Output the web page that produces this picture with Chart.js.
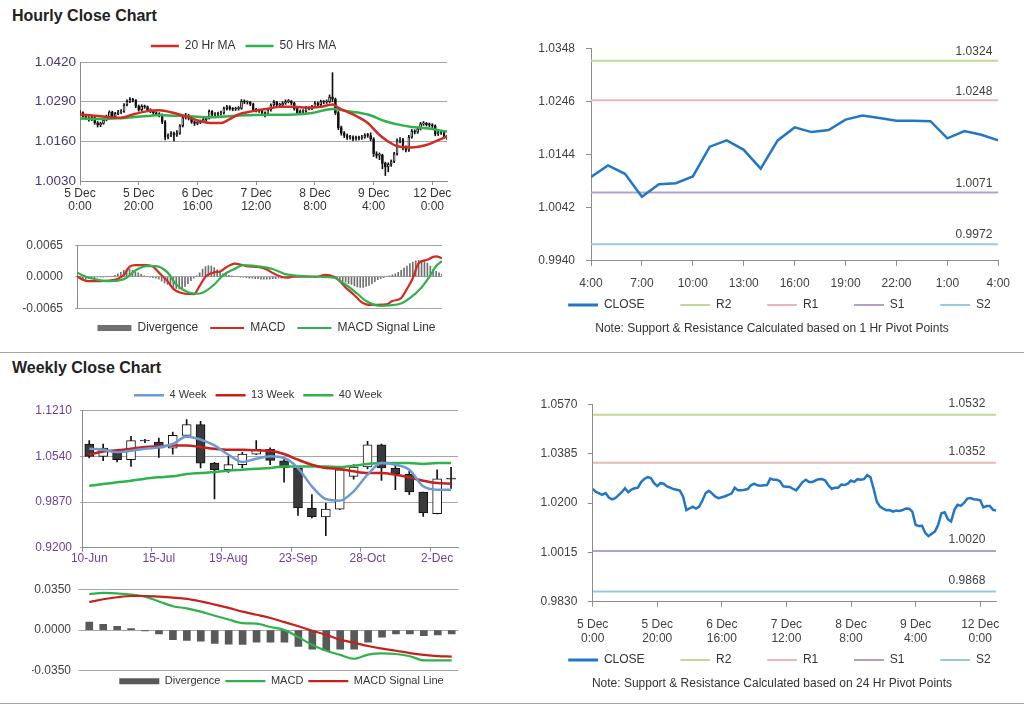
<!DOCTYPE html>
<html><head><meta charset="utf-8">
<script src="https://cdn.jsdelivr.net/npm/chart.js@4.4.1/dist/chart.umd.min.js"></script>
<style>
html,body{margin:0;padding:0;background:#fff;}
body{width:1024px;height:706px;position:relative;overflow:hidden;font-family:"Liberation Sans",Arial,sans-serif;}
canvas{position:absolute;}
.title{position:absolute;left:12px;font-weight:bold;font-size:16px;color:#222;line-height:20px;}
.note{position:absolute;left:520px;width:504px;text-align:center;font-size:12px;color:#333;line-height:14px;}
.sep{position:absolute;left:0;width:1024px;height:1px;background:#a6a6a6;}
</style></head><body>
<div class="title" style="top:6px">Hourly Close Chart</div>
<div class="title" style="top:358px">Weekly Close Chart</div>
<canvas id="cA" width="470" height="185" style="left:0;top:30px"></canvas>
<canvas id="cB" width="512" height="120" style="left:0;top:226px"></canvas>
<canvas id="cC" width="491" height="294" style="left:520px;top:30px"></canvas>
<canvas id="cD" width="482" height="192" style="left:0;top:378px"></canvas>
<canvas id="cE" width="531" height="124" style="left:0;top:575px"></canvas>
<canvas id="cF" width="491" height="292" style="left:520px;top:387px"></canvas>
<div class="note" style="top:321px">Note: Support &amp; Resistance Calculated based on 1 Hr Pivot Points</div>
<div class="note" style="top:676px">Note: Support &amp; Resistance Calculated based on 24 Hr Pivot Points</div>
<div class="sep" style="top:352px"></div>
<div class="sep" style="top:703px"></div>
<script>
// ---------------- DATA ----------------
// Hourly series (5 Dec 0:00 .. 12 Dec 5:00), index = hour
const hTickIdx = [0,20,40,60,80,100,120];
const hTickLabels = [['5 Dec','0:00'],['5 Dec','20:00'],['6 Dec','16:00'],['7 Dec','12:00'],['8 Dec','8:00'],['9 Dec','4:00'],['12 Dec','0:00']];
const hPriceTicks = [1.0030,1.0160,1.0290,1.0420];
const hOpen = [1.0250,1.0254,1.0242,1.0237,1.0231,1.0238,1.0221,1.0214,1.0219,1.0230,
1.0241,1.0256,1.0241,1.0251,1.0256,1.0258,1.0279,1.0291,1.0298,1.0294,
1.0275,1.0264,1.0275,1.0273,1.0263,1.0258,1.0253,1.0250,1.0247,1.0224,
1.0174,1.0180,1.0187,1.0180,1.0187,1.0211,1.0238,1.0246,1.0236,1.0224,
1.0219,1.0222,1.0226,1.0231,1.0236,1.0258,1.0248,1.0248,1.0250,1.0253,
1.0267,1.0273,1.0267,1.0265,1.0267,1.0268,1.0292,1.0288,1.0288,1.0282,
1.0263,1.0262,1.0261,1.0254,1.0248,1.0263,1.0279,1.0288,1.0279,1.0279,
1.0285,1.0290,1.0291,1.0285,1.0267,1.0254,1.0258,1.0258,1.0270,1.0268,
1.0273,1.0285,1.0280,1.0290,1.0288,1.0290,1.0305,1.0298,1.0254,1.0205,
1.0187,1.0179,1.0173,1.0174,1.0168,1.0172,1.0171,1.0174,1.0180,1.0179,
1.0168,1.0119,1.0114,1.0115,1.0088,1.0076,1.0085,1.0094,1.0119,1.0162,
1.0166,1.0140,1.0131,1.0174,1.0194,1.0190,1.0201,1.0217,1.0219,1.0215,
1.0214,1.0211,1.0184,1.0189,1.0189,1.0175];
const hClose = [1.0254,1.0242,1.0237,1.0231,1.0238,1.0221,1.0214,1.0219,1.0230,1.0241,
1.0256,1.0241,1.0251,1.0256,1.0258,1.0279,1.0291,1.0298,1.0294,1.0275,
1.0264,1.0275,1.0273,1.0263,1.0258,1.0253,1.0250,1.0247,1.0224,1.0174,
1.0180,1.0187,1.0180,1.0187,1.0211,1.0238,1.0246,1.0236,1.0224,1.0219,
1.0222,1.0226,1.0231,1.0236,1.0258,1.0248,1.0248,1.0250,1.0253,1.0267,
1.0273,1.0267,1.0265,1.0267,1.0268,1.0292,1.0288,1.0288,1.0282,1.0263,
1.0262,1.0261,1.0254,1.0248,1.0263,1.0279,1.0288,1.0279,1.0279,1.0285,
1.0290,1.0291,1.0285,1.0267,1.0254,1.0258,1.0258,1.0270,1.0268,1.0273,
1.0285,1.0280,1.0290,1.0288,1.0290,1.0305,1.0298,1.0254,1.0205,1.0187,
1.0179,1.0173,1.0174,1.0168,1.0172,1.0171,1.0174,1.0180,1.0179,1.0168,
1.0119,1.0114,1.0115,1.0088,1.0076,1.0085,1.0094,1.0119,1.0162,1.0166,
1.0140,1.0131,1.0174,1.0194,1.0190,1.0201,1.0217,1.0219,1.0215,1.0214,
1.0211,1.0184,1.0189,1.0189,1.0175,1.0172];
const hHigh = [1.0260,1.0257,1.0246,1.0241,1.0242,1.0240,1.0225,1.0223,1.0234,1.0246,
1.0260,1.0259,1.0255,1.0262,1.0264,1.0284,1.0296,1.0303,1.0301,1.0297,
1.0279,1.0280,1.0279,1.0276,1.0267,1.0262,1.0257,1.0254,1.0250,1.0228,
1.0185,1.0192,1.0190,1.0195,1.0215,1.0242,1.0252,1.0249,1.0240,1.0228,
1.0227,1.0230,1.0236,1.0241,1.0263,1.0261,1.0254,1.0256,1.0259,1.0272,
1.0278,1.0277,1.0271,1.0272,1.0274,1.0297,1.0296,1.0293,1.0291,1.0285,
1.0268,1.0266,1.0264,1.0257,1.0267,1.0283,1.0294,1.0291,1.0285,1.0290,
1.0296,1.0297,1.0294,1.0288,1.0270,1.0263,1.0264,1.0275,1.0274,1.0278,
1.0290,1.0289,1.0295,1.0294,1.0296,1.0312,1.0385,1.0302,1.0258,1.0210,
1.0192,1.0184,1.0180,1.0178,1.0177,1.0177,1.0180,1.0185,1.0186,1.0188,
1.0172,1.0126,1.0122,1.0118,1.0092,1.0090,1.0099,1.0124,1.0168,1.0172,
1.0170,1.0145,1.0180,1.0199,1.0198,1.0207,1.0222,1.0225,1.0222,1.0220,
1.0218,1.0214,1.0195,1.0195,1.0192,1.0180];
const hLow = [1.0244,1.0238,1.0232,1.0226,1.0228,1.0216,1.0207,1.0208,1.0216,1.0227,
1.0238,1.0236,1.0237,1.0247,1.0251,1.0255,1.0276,1.0287,1.0289,1.0270,
1.0259,1.0260,1.0268,1.0258,1.0254,1.0248,1.0245,1.0240,1.0218,1.0165,
1.0168,1.0175,1.0161,1.0176,1.0183,1.0207,1.0233,1.0230,1.0219,1.0212,
1.0214,1.0218,1.0222,1.0227,1.0233,1.0243,1.0243,1.0244,1.0246,1.0249,
1.0262,1.0262,1.0260,1.0261,1.0262,1.0265,1.0283,1.0282,1.0277,1.0258,
1.0256,1.0255,1.0249,1.0240,1.0245,1.0259,1.0275,1.0274,1.0273,1.0275,
1.0281,1.0286,1.0280,1.0262,1.0248,1.0250,1.0252,1.0255,1.0263,1.0264,
1.0270,1.0275,1.0276,1.0283,1.0284,1.0287,1.0290,1.0248,1.0198,1.0180,
1.0172,1.0166,1.0167,1.0162,1.0164,1.0165,1.0166,1.0170,1.0173,1.0162,
1.0110,1.0105,1.0100,1.0070,1.0048,1.0060,1.0078,1.0090,1.0115,1.0155,
1.0132,1.0125,1.0127,1.0170,1.0184,1.0186,1.0197,1.0212,1.0210,1.0208,
1.0205,1.0178,1.0179,1.0183,1.0170,1.0166];
const ma20Idx = [0,7,14,18,23,27,32,36,41,45,48,51,54,59,64,68,73,77,82,86,88,93,98,102,107,109,113,118,122,125];
const ma20Val = [1.0248,1.0242,1.0237,1.0248,1.0259,1.0262,1.0253,1.0242,1.0226,1.0220,1.0220,1.0233,1.0248,1.0259,1.0267,1.0273,1.0273,1.0270,1.0273,1.0281,1.0270,1.0248,1.0220,1.0181,1.0148,1.0142,1.0140,1.0148,1.0164,1.0176];
const ma50Idx = [0,7,14,18,23,27,32,36,41,45,52,59,66,73,79,86,91,98,104,109,113,118,125];
const ma50Val = [1.0235,1.0233,1.0236,1.0239,1.0243,1.0246,1.0244,1.0243,1.0240,1.0239,1.0243,1.0246,1.0247,1.0248,1.0253,1.0266,1.0259,1.0248,1.0226,1.0214,1.0207,1.0203,1.0192];

// Hourly MACD
const hMacdTicks = [-0.0065,0,0.0065];
const hDiv = [0.0002,-0.0003,-0.0006,-0.0005,-0.0004,-0.0003,-0.0002,-0.0001,-0.0001,-0.0001,
0,0.0001,0.0001,0.0003,0.0006,0.0009,0.0013,0.0016,0.0016,0.0013,
0.0009,0.0008,0.0005,0.0002,0,-0.0001,-0.0002,-0.0003,-0.0005,-0.0009,
-0.0013,-0.0016,-0.0019,-0.0022,-0.0024,-0.0025,-0.0024,-0.0020,-0.0014,-0.0008,
-0.0003,0.0002,0.0008,0.0016,0.0021,0.0023,0.0022,0.0019,0.0014,0.0009,
0.0006,0.0005,0.0003,0.0002,0.0001,0,-0.0001,-0.0001,-0.0002,-0.0003,
-0.0003,-0.0004,-0.0004,-0.0005,-0.0005,-0.0005,-0.0005,-0.0004,-0.0004,-0.0003,
-0.0003,-0.0002,-0.0001,-0.0001,0,0.0001,0.0001,0.0001,0,0,
0,0,0,0,0.0001,0.0001,0.0002,0,-0.0002,-0.0004,
-0.0006,-0.0009,-0.0011,-0.0014,-0.0016,-0.0019,-0.0021,-0.0022,-0.0022,-0.0020,
-0.0018,-0.0014,-0.0010,-0.0006,-0.0004,-0.0002,0,0.0002,0.0004,0.0006,
0.0009,0.0013,0.0018,0.0022,0.0027,0.0030,0.0033,0.0034,0.0033,0.0032,
0.0028,0.0022,0.0016,0.0011,0.0008,0.0005];
const macdIdx = [0,2,4,8,11,14,16,18,20,24,26,28,31,33,35,37,40,42,44,47,49,51,54,56,58,62,65,67,70,72,74,82,85,88,90,92,95,97,99,101,106,108,111,113,115,117,120,122,123,125];
const macdVal = [0.0001,-0.0006,-0.0009,-0.0009,-0.0008,-0.0004,0.0003,0.0021,0.0024,0.0024,0.0021,0.0009,-0.0009,-0.0025,-0.0032,-0.0035,-0.0036,-0.0019,0.0000,0.0009,0.0011,0.0019,0.0027,0.0025,0.0022,0.0020,0.0015,0.0008,0.0000,-0.0002,0.0000,0.0000,0.0004,0.0000,-0.0009,-0.0022,-0.0038,-0.0050,-0.0057,-0.0058,-0.0057,-0.0050,-0.0044,-0.0025,-0.0003,0.0028,0.0035,0.0041,0.0042,0.0038];
const sigIdx = [0,3,7,10,14,17,20,24,27,31,34,38,41,43,47,50,54,57,60,64,67,71,74,79,83,88,92,96,99,104,107,111,114,118,121,123,125];
const sigVal = [0.0009,0.0000,-0.0006,-0.0009,-0.0008,-0.0002,0.0013,0.0022,0.0022,0.0009,-0.0016,-0.0032,-0.0035,-0.0033,-0.0016,0.0003,0.0016,0.0024,0.0023,0.0020,0.0016,0.0006,0.0003,0.0001,0.0000,-0.0002,-0.0016,-0.0035,-0.0050,-0.0060,-0.0059,-0.0055,-0.0044,-0.0022,0.0003,0.0022,0.0032];

// 1 Hr pivot chart (last 24 hours)
const pivHourIdx = [0,3,6,9,12,15,18,21,24];
const pivHourLabels = ['4:00','7:00','10:00','13:00','16:00','19:00','22:00','1:00','4:00'];
const pivHourTicks = [0.9940,1.0042,1.0144,1.0246,1.0348];
const pivHourClose = [1.0101,1.0123,1.0107,1.0063,1.0087,1.0089,1.0102,1.0159,1.0171,1.0153,1.0117,1.0171,1.0196,1.0187,1.0191,1.0211,1.0219,1.0214,1.0209,1.0209,1.0208,1.0175,1.0189,1.0182,1.0171];
const pivNames = ['R2','R1','S1','S2'];
const pivHourLevels = [1.0324,1.0248,1.0071,0.9972];

// 24 Hr pivot chart
const pivDayTicks = [0.9830,1.0015,1.0200,1.0385,1.0570];
const pivDayLevels = [1.0532,1.0352,1.0020,0.9868];

// Weekly
const weekLabels = ['10-Jun','17-Jun','24-Jun','1-Jul','8-Jul','15-Jul','22-Jul','29-Jul','5-Aug','12-Aug','19-Aug','26-Aug','2-Sep','9-Sep','16-Sep','23-Sep','30-Sep','7-Oct','14-Oct','21-Oct','28-Oct','4-Nov','11-Nov','18-Nov','25-Nov','2-Dec','9-Dec'];
const wPriceTicks = [0.9200,0.9870,1.0540,1.1210];
const wOpen = [1.0721,1.0540,1.0589,1.0491,1.0770,1.0750,1.0662,1.0848,1.1005,1.0442,1.0344,1.0418,1.0574,1.0643,1.0476,1.0369,0.9782,0.9650,0.9767,1.0247,1.0384,1.0711,1.0369,1.0281,1.0017,0.9699,1.0210];
const wClose = [1.0540,1.0662,1.0491,1.0770,1.0765,1.0662,1.0848,1.1005,1.0442,1.0344,1.0418,1.0574,1.0643,1.0481,1.0369,0.9782,0.9650,0.9767,1.0344,1.0384,1.0711,1.0369,1.0286,1.0017,0.9709,1.0212,1.0207];
const wHigh = [1.0770,1.0721,1.0638,1.0833,1.0790,1.0809,1.0897,1.1078,1.1053,1.0452,1.0540,1.0599,1.0770,1.0667,1.0501,1.0379,0.9978,0.9855,1.0359,1.0418,1.0760,1.0721,1.0418,1.0320,1.0017,1.0344,1.0379];
const wLow = [1.0516,1.0476,1.0457,1.0393,1.0740,1.0525,1.0574,1.0819,1.0369,0.9914,1.0305,1.0369,1.0564,1.0418,1.0163,0.9674,0.9636,0.9376,0.9758,1.0207,1.0354,1.0188,1.0051,0.9978,0.9660,0.9694,1.0070];
const w4 = [1.0652,1.0638,1.0599,1.0623,1.0652,1.0672,1.0721,1.0833,1.0785,1.0701,1.0564,1.0457,1.0506,1.0540,1.0516,1.0369,1.0100,0.9914,0.9890,1.0027,1.0271,1.0442,1.0418,1.0344,1.0100,1.0051,1.0051];
const w13 = [1.0564,1.0613,1.0628,1.0652,1.0677,1.0687,1.0701,1.0701,1.0677,1.0652,1.0638,1.0638,1.0628,1.0623,1.0574,1.0491,1.0418,1.0369,1.0354,1.0320,1.0295,1.0295,1.0271,1.0232,1.0183,1.0149,1.0139];
const w40 = [1.0110,1.0134,1.0159,1.0183,1.0212,1.0232,1.0247,1.0281,1.0296,1.0310,1.0330,1.0344,1.0359,1.0369,1.0393,1.0393,1.0393,1.0393,1.0384,1.0403,1.0428,1.0442,1.0442,1.0442,1.0428,1.0442,1.0442];
const wMacdTicks = [-0.0350,0,0.0350];
const wDiv = [0.0069,0.0049,0.0033,0.0014,-0.0008,-0.0033,-0.0082,-0.0088,-0.0096,-0.0115,-0.0121,-0.0124,-0.0104,-0.0104,-0.0104,-0.0140,-0.0165,-0.0178,-0.0165,-0.0165,-0.0104,-0.0060,-0.0033,-0.0033,-0.0049,-0.0041,-0.0033];
const wMacd = [0.0310,0.0321,0.0316,0.0307,0.0288,0.0247,0.0206,0.0187,0.0159,0.0124,0.0091,0.0060,0.0055,0.0027,0.0000,-0.0060,-0.0129,-0.0178,-0.0214,-0.0247,-0.0211,-0.0200,-0.0206,-0.0225,-0.0261,-0.0261,-0.0261];
const wSignal = [0.0242,0.0266,0.0283,0.0294,0.0294,0.0288,0.0280,0.0269,0.0247,0.0220,0.0192,0.0159,0.0132,0.0104,0.0069,0.0033,-0.0005,-0.0041,-0.0082,-0.0110,-0.0137,-0.0159,-0.0178,-0.0198,-0.0214,-0.0225,-0.0228];

// ---------------- STYLE / HELPERS ----------------
const FONT = "'Liberation Sans', Arial, sans-serif";
Chart.defaults.font.family = FONT;
Chart.defaults.color = '#404040';
Chart.defaults.animation = false;
Chart.defaults.events = [];
Chart.defaults.plugins.tooltip.enabled = false;

const RED = '#d22b24', GREEN = '#2eb24c', BLUE4 = '#6b9bd2', RED13 = '#c8201e', CLOSEC = '#2277c4';
const PIVC = ['#c3d69b','#e6b9b8','#b3a2c7','#93cddd'];
const GRID = '#a6a6a6', AXIS = '#8c8c8c';

const fixedTicks = list => s => { s.ticks = list.map(v => ({value: v})); };
const fmt4 = v => Number(v).toFixed(4);
const pts = (xs, ys) => xs.map((x, i) => ({x, y: ys[i]}));
const spacer = w => ({position:'right', display:true, grid:{display:false, drawTicks:false}, border:{display:false}, ticks:{display:false}, afterFit: s => { s.width = w; }});

// legend swatch image: a short line placed at the right end of a wider legend box
function swatch(color, total, len, thick) {
  const c = document.createElement('canvas');
  c.width = Math.round(total); c.height = 4;
  const g = c.getContext('2d');
  g.fillStyle = color;
  g.fillRect(c.width - len, (4 - thick) / 2, len, thick);
  return c;
}

function legendOpts(pos, size, pad, bw, swLen) {
  return {
    position: pos, align: 'center',
    labels: {
      usePointStyle: true, pointStyleWidth: bw, boxHeight: 6, padding: pad,
      color: '#333', font: {size, family: FONT},
      generateLabels: chart => chart.data.datasets.map((d, i) => ({
        text: d.label, datasetIndex: i, hidden: false,
        pointStyle: d.type === 'bar' ? 'rect' : (swLen ? swatch(d.borderColor, bw, swLen, d.borderWidth > 2.2 ? 3 : 2) : 'line'),
        fillStyle: d.type === 'bar' ? d.backgroundColor : d.borderColor,
        strokeStyle: d.borderColor,
        lineWidth: d.type === 'bar' ? 0 : d.borderWidth,
        fontColor: '#333'
      })).filter(it => !!chart.data.datasets[it.datasetIndex].label)
    }
  };
}

const pivotLabels = {
  id: 'pivotLabels',
  afterDatasetsDraw(chart, args, opts) {
    const {ctx, chartArea, scales} = chart;
    ctx.save();
    ctx.font = '12px ' + FONT;
    ctx.fillStyle = '#404040';
    ctx.textAlign = 'right';
    ctx.textBaseline = 'middle';
    opts.values.forEach(v => ctx.fillText(fmt4(v), chartArea.right - opts.dx, scales.y.getPixelForValue(v) - opts.dy));
    ctx.restore();
  }
};

function candleSets(open, close, high, low, xs, bodyW, bullFill, bearFill) {
  const mk = (a, b, i) => xs ? {x: xs[i], y: [a, b]} : [a, b];
  return [
    {type:'bar', label:'', data: open.map((o, i) => mk(o, close[i], i)),
     backgroundColor: open.map((o, i) => close[i] >= o ? bullFill : bearFill),
     borderColor: '#111', borderWidth: 1, borderSkipped: false, barThickness: bodyW, minBarLength: 1, grouped: false, order: 1},
    {type:'bar', label:'', data: low.map((l, i) => mk(l, high[i], i)),
     backgroundColor: '#111', borderWidth: 0, barThickness: 1, grouped: false, order: 2}
  ];
}
const hIdx = hClose.map((_, i) => i);

// ---------------- A: hourly candles ----------------
new Chart(document.getElementById('cA'), {
  type: 'bar',
  data: { datasets: [
    {type:'line', label:'20 Hr MA', data: pts(ma20Idx, ma20Val), borderColor: RED, borderWidth: 2.5, pointRadius: 0, cubicInterpolationMode:'monotone', order: 0},
    {type:'line', label:'50 Hrs MA', data: pts(ma50Idx, ma50Val), borderColor: GREEN, borderWidth: 2.5, pointRadius: 0, cubicInterpolationMode:'monotone', order: 0},
    ...candleSets(hOpen, hClose, hHigh, hLow, hIdx, 2, '#ffffff', '#111111')
  ]},
  options: {
    responsive: false,
    layout: {padding: {left: 17, top: 0, right: 0, bottom: 2}},
    plugins: {legend: legendOpts('top', 12, 10, 28)},
    scales: {
      x: {type:'linear', min: 0, max: 125, offset: false,
          grid: {drawOnChartArea: false, drawTicks: true, tickLength: 4, color: AXIS, offset: false},
          border: {color: AXIS},
          ticks: {autoSkip: false, maxRotation: 0, padding: 2, color: '#333', font: {size: 12, lineHeight: 1.1},
                  callback: v => { const k = hTickIdx.indexOf(v); return k >= 0 ? hTickLabels[k] : ''; }},
          afterBuildTicks: fixedTicks(hTickIdx), afterFit: s => { s.height = 32; }},
      y: {min: 1.0030, max: 1.0420, beginAtZero: false,
          grid: {color: GRID, drawTicks: false}, border: {color: AXIS},
          ticks: {padding: 4, color: '#4a3870', font: {size: 13.5}, callback: fmt4},
          afterBuildTicks: fixedTicks(hPriceTicks), afterFit: s => { s.width = 63; }},
      yR: spacer(23)
    }
  }
});

// ---------------- B: hourly MACD ----------------
new Chart(document.getElementById('cB'), {
  type: 'bar',
  data: { datasets: [
    {type:'bar', label:'Divergence', data: pts(hIdx, hDiv), backgroundColor: '#707070', borderWidth: 0, barThickness: 1, grouped: false, order: 2},
    {type:'line', label:'MACD', data: pts(macdIdx, macdVal), borderColor: RED, borderWidth: 2.2, pointRadius: 0, cubicInterpolationMode:'monotone', order: 1},
    {type:'line', label:'MACD Signal Line', data: pts(sigIdx, sigVal), borderColor: GREEN, borderWidth: 2.2, pointRadius: 0, cubicInterpolationMode:'monotone', order: 0}
  ]},
  options: {
    responsive: false,
    layout: {padding: {left: 21, top: 13.3, right: 0, bottom: 2}},
    plugins: {legend: legendOpts('bottom', 12, 12, 34)},
    scales: {
      x: {type:'linear', min: 0, max: 125, offset: false, grid: {display: false, offset: false}, border: {display: false},
          ticks: {display: false}, afterFit: s => { s.height = 1.7; }},
      y: {min: -0.0065, max: 0.0065, beginAtZero: false,
          grid: {color: GRID, drawTicks: true, tickLength: 2}, border: {color: AXIS},
          ticks: {padding: 12, color: '#404040', font: {size: 12}, callback: fmt4},
          afterBuildTicks: fixedTicks(hMacdTicks), afterFit: s => { s.width = 56; }},
      yR: spacer(70)
    }
  }
});

// ---------------- C: 1 Hr pivot ----------------
const pivotSets = (levels, xmax) => levels.map((v, k) => ({
  type:'line', label: pivNames[k], data: [{x: 0, y: v}, {x: xmax, y: v}],
  borderColor: PIVC[k], borderWidth: 2, pointRadius: 0, order: 1
}));
new Chart(document.getElementById('cC'), {
  type: 'line',
  data: { datasets: [
    {type:'line', label:'CLOSE', data: pts(pivHourClose.map((_, i) => i), pivHourClose), borderColor: CLOSEC, borderWidth: 2.5, pointRadius: 0, order: 0},
    ...pivotSets(pivHourLevels, 24)
  ]},
  plugins: [pivotLabels],
  options: {
    responsive: false,
    layout: {padding: {left: 0, top: 15, right: 0, bottom: 3}},
    plugins: {legend: legendOpts('bottom', 12, 8, 57.5, 30), pivotLabels: {values: pivHourLevels, dx: 6, dy: 9}},
    scales: {
      x: {type:'linear', min: 0, max: 24,
          grid: {drawOnChartArea: false, drawTicks: true, tickLength: 5, color: AXIS}, border: {color: AXIS},
          ticks: {autoSkip: false, maxRotation: 0, padding: 0, color: '#404040', font: {size: 12, lineHeight: 3.0},
                  callback: v => { const k = pivHourIdx.indexOf(v); return k >= 0 ? pivHourLabels[k] : ''; }},
          afterBuildTicks: fixedTicks(pivHourIdx), afterFit: s => { s.height = 30.2; }},
      y: {min: 0.9940, max: 1.0348,
          grid: {drawOnChartArea: false, drawTicks: true, tickLength: 5, color: AXIS}, border: {color: AXIS},
          ticks: {padding: 11, color: '#404040', font: {size: 12}, callback: fmt4},
          afterBuildTicks: fixedTicks(pivHourTicks), afterFit: s => { s.width = 71; }},
      yR: spacer(12.7)
    }
  }
});

// ---------------- D: weekly candles ----------------
new Chart(document.getElementById('cD'), {
  type: 'bar',
  data: { labels: weekLabels, datasets: [
    {type:'line', label:'4 Week', data: w4, borderColor: BLUE4, borderWidth: 2.5, pointRadius: 0, cubicInterpolationMode:'monotone', order: 0},
    {type:'line', label:'13 Week', data: w13, borderColor: RED13, borderWidth: 2.5, pointRadius: 0, cubicInterpolationMode:'monotone', order: 0},
    {type:'line', label:'40 Week', data: w40, borderColor: GREEN, borderWidth: 2.5, pointRadius: 0, cubicInterpolationMode:'monotone', order: 0},
    ...candleSets(wOpen, wClose, wHigh, wLow, null, 9, '#ffffff', '#3a3a3a')
  ]},
  options: {
    responsive: false,
    layout: {padding: {left: 34, top: 2.7, right: 0, bottom: 2.3}},
    plugins: {legend: legendOpts('top', 11, 9, 30)},
    scales: {
      x: {type:'category', offset: true,
          grid: {offset: true, drawOnChartArea: false, drawTicks: true, tickLength: 4, color: AXIS,
                 tickColor: c => (c.index !== undefined && c.index % 5 === 0) ? AXIS : 'rgba(0,0,0,0)'},
          border: {color: AXIS},
          ticks: {autoSkip: false, maxRotation: 0, padding: 0, color: '#6e3f98', font: {size: 12},
                  callback: (v, i) => i % 5 === 0 ? weekLabels[i] : ''},
          afterFit: s => { s.height = 20; }},
      y: {min: 0.9200, max: 1.1210, beginAtZero: false,
          grid: {color: GRID, drawTicks: true, tickLength: 2.3}, border: {color: AXIS},
          ticks: {padding: 8, color: '#6e3f98', font: {size: 12}, callback: fmt4},
          afterBuildTicks: fixedTicks(wPriceTicks), afterFit: s => { s.width = 48.3; }},
      yR: spacer(24)
    }
  }
});

// ---------------- E: weekly MACD ----------------
new Chart(document.getElementById('cE'), {
  type: 'bar',
  data: { labels: weekLabels, datasets: [
    {type:'bar', label:'Divergence', data: wDiv, backgroundColor: '#595959', borderWidth: 0, barThickness: 7, grouped: false, order: 2},
    {type:'line', label:'MACD', data: wMacd, borderColor: GREEN, borderWidth: 2.2, pointRadius: 0, cubicInterpolationMode:'monotone', order: 1},
    {type:'line', label:'MACD Signal Line', data: wSignal, borderColor: RED13, borderWidth: 2.2, pointRadius: 0, cubicInterpolationMode:'monotone', order: 0}
  ]},
  options: {
    responsive: false,
    layout: {padding: {left: 32, top: 10.7, right: 0, bottom: 2.3}},
    plugins: {legend: legendOpts('bottom', 11, 5, 40)},
    scales: {
      x: {type:'category', offset: true, display: false},
      y: {min: -0.0350, max: 0.0350, beginAtZero: false,
          grid: {color: GRID, drawTicks: true, tickLength: 4}, border: {display: false},
          ticks: {padding: 7.3, color: '#404040', font: {size: 12}, callback: fmt4},
          afterBuildTicks: fixedTicks(wMacdTicks), afterFit: s => { s.width = 50.3; }},
      yR: spacer(72.3)
    }
  }
});

// ---------------- F: 24 Hr pivot ----------------
new Chart(document.getElementById('cF'), {
  type: 'line',
  data: { datasets: [
    {type:'line', label:'CLOSE', data: pts(hIdx, hClose), borderColor: CLOSEC, borderWidth: 2.5, pointRadius: 0, order: 0},
    ...pivotSets(pivDayLevels, 125)
  ]},
  plugins: [pivotLabels],
  options: {
    responsive: false,
    layout: {padding: {left: 0, top: 14.7, right: 0, bottom: 3}},
    plugins: {legend: legendOpts('bottom', 12, 8, 57.5, 30), pivotLabels: {values: pivDayLevels, dx: 11, dy: 11}},
    scales: {
      x: {type:'linear', min: 0, max: 125,
          grid: {drawOnChartArea: false, drawTicks: true, tickLength: 5, color: AXIS}, border: {color: AXIS},
          ticks: {autoSkip: false, maxRotation: 0, padding: 11.3, color: '#404040', font: {size: 12, lineHeight: 1.167},
                  callback: v => { const k = hTickIdx.indexOf(v); return k >= 0 ? hTickLabels[k] : ''; }},
          afterBuildTicks: fixedTicks(hTickIdx), afterFit: s => { s.height = 44.3; }},
      y: {min: 0.9830, max: 1.0570,
          grid: {drawOnChartArea: false, drawTicks: true, tickLength: 5, color: AXIS}, border: {color: AXIS},
          ticks: {padding: 10.4, color: '#404040', font: {size: 12}, callback: fmt4},
          afterBuildTicks: fixedTicks(pivDayTicks), afterFit: s => { s.width = 72.7; }},
      yR: spacer(13.3)
    }
  }
});
</script>
</body></html>
